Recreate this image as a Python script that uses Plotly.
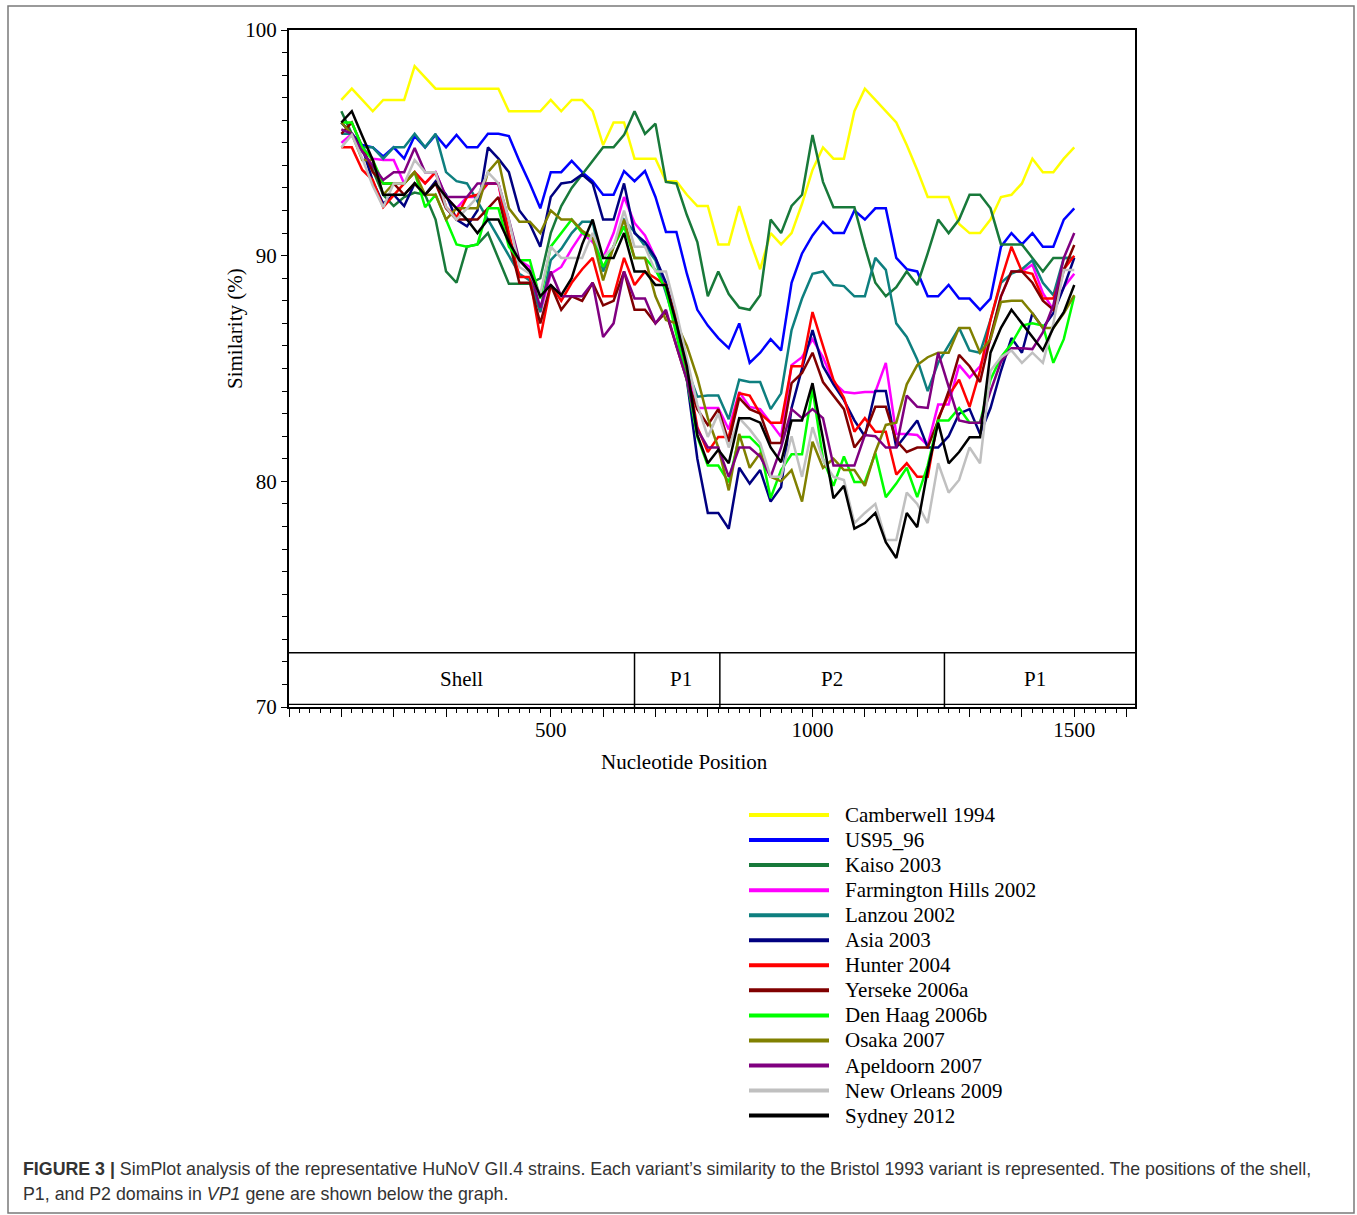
import plotly.graph_objects as go

# ---------------- data ----------------
positions = list(range(100, 1501, 20))  # window centres (nt)

camberwell_1994 = [96.9, 97.4, 96.9, 96.4, 96.9, 96.9, 96.9, 98.4, 97.9, 97.4,
                   97.4, 97.4, 97.4, 97.4, 97.4, 97.4, 96.4, 96.4, 96.4, 96.4,
                   96.9, 96.4, 96.9, 96.9, 96.4, 94.9, 95.9, 95.9, 94.3, 94.3,
                   94.3, 93.3, 93.3, 92.7, 92.2, 92.2, 90.5, 90.5, 92.2, 90.7,
                   89.4, 91.0, 90.5, 91.0, 92.3, 93.8, 94.8, 94.3, 94.3, 96.4,
                   97.4, 96.9, 96.4, 95.9, 94.9, 93.8, 92.6, 92.6, 92.6, 91.4,
                   91.0, 91.0, 91.6, 92.6, 92.7, 93.2, 94.3, 93.7, 93.7, 94.3,
                   94.8]
us95_96 = [95.9, 95.4, 94.9, 94.8, 94.4, 94.8, 94.3, 95.3, 94.8, 95.35,
           94.8, 95.35, 94.8, 94.8, 95.4, 95.4, 95.3, 94.2, 93.2, 92.1,
           93.7, 93.7, 94.2, 93.7, 93.3, 92.7, 92.7, 93.75, 93.3, 93.75,
           92.6, 91.05, 91.05, 89.2, 87.6, 86.9, 86.35, 85.9, 87.0, 85.25,
           85.7, 86.3, 85.8, 88.8, 90.1, 90.9, 91.5, 91.0, 91.0, 92.0,
           91.6, 92.1, 92.1, 89.9, 89.4, 89.3, 88.2, 88.2, 88.7, 88.1,
           88.1, 87.6, 88.1, 90.4, 91.0, 90.5, 91.0, 90.4, 90.4, 91.6,
           92.1]
kaiso_2003 = [96.4, 95.4, 94.8, 93.8, 92.7, 92.2, 92.6, 92.8, 92.7, 91.6,
              89.3, 88.8, 90.4, 90.5, 91.0, 89.9, 88.75, 88.75, 88.75, 89.0,
              91.0, 92.2, 93.0, 93.6, 94.2, 94.8, 94.8, 95.35, 96.4, 95.4,
              95.85, 93.27, 93.2, 91.8, 90.6, 88.2, 89.3, 88.3, 87.7, 87.6,
              88.25, 91.6, 91.0, 92.2, 92.7, 95.35, 93.27, 92.15, 92.15, 92.15,
              90.4, 88.8, 88.2, 88.6, 89.3, 88.7, 90.1, 91.6, 91.0, 91.6,
              92.7, 92.7, 92.1, 90.5, 90.5, 90.5, 89.9, 89.3, 89.9, 89.9,
              89.9]
farmington_hills_2002 = [95.0, 95.4, 94.8, 94.3, 94.24, 94.24, 93.2, 93.7, 93.2, 93.7,
                         92.6, 92.1, 92.6, 92.6, 93.2, 93.2, 90.7, 89.8, 89.5, 87.5,
                         89.2, 89.5, 90.3, 91.0, 90.6, 89.9, 91.0, 92.6, 91.45, 90.9,
                         89.9, 88.7, 86.8, 85.0, 83.25, 83.25, 83.25, 82.3, 83.96, 83.3,
                         83.2, 82.6, 81.97, 85.15, 85.5, 86.3, 85.5, 84.4, 83.96, 83.9,
                         83.96, 83.96, 85.25, 82.1, 82.1, 82.05, 81.6, 83.4, 83.4, 85.15,
                         84.6, 85.1, 86.3, 88.2, 89.3, 89.3, 89.6, 88.35, 87.6, 88.6,
                         89.2]
lanzou_2002 = [95.4, 95.4, 94.8, 94.8, 94.3, 94.8, 94.8, 95.4, 94.8, 95.4,
               93.7, 93.3, 93.2, 92.4, 91.6, 90.8, 90.0, 89.2, 88.9, 87.5,
               89.8, 90.3, 91.0, 91.5, 91.5, 89.3, 90.4, 91.6, 91.05, 90.4,
               89.8, 88.35, 86.8, 85.0, 83.75, 83.8, 83.8, 82.75, 84.5, 84.4,
               84.4, 83.2, 83.9, 86.7, 88.1, 89.2, 89.3, 88.7, 88.65, 88.2,
               88.2, 89.9, 89.37, 87.0, 86.4, 85.4, 84.0, 85.25, 86.0, 86.8,
               85.8, 85.7, 87.15, 88.8, 89.2, 89.4, 89.8, 88.8, 88.25, 89.9,
               89.9]
asia_2003 = [95.9, 95.4, 94.8, 93.3, 92.3, 92.7, 92.2, 93.2, 92.7, 93.3,
             92.7, 91.6, 91.3, 92.0, 94.8, 94.3, 93.7, 92.0, 91.4, 90.4,
             92.6, 93.2, 93.27, 93.6, 93.2, 91.6, 91.6, 93.2, 91.0, 90.6,
             89.9, 88.8, 87.15, 84.5, 81.0, 78.6, 78.6, 77.9, 80.6, 79.9,
             80.5, 79.1, 79.75, 83.25, 85.0, 86.7, 85.1, 84.3, 83.6, 82.7,
             82.0, 84.0, 84.0, 81.5, 82.1, 82.7, 81.5, 81.5, 82.0, 83.0,
             83.2, 82.1, 83.25, 84.9, 86.35, 85.7, 87.45, 86.8, 87.45, 88.6,
             89.9]
hunter_2004 = [94.8, 94.8, 93.8, 93.35, 92.15, 92.7, 93.2, 93.7, 93.2, 93.7,
               92.15, 91.7, 92.6, 92.7, 93.2, 93.2, 91.0, 89.05, 89.05, 86.35,
               88.7, 88.0, 88.8, 89.4, 89.9, 88.2, 88.2, 89.9, 88.7, 89.3,
               89.0, 88.7, 87.15, 85.0, 82.4, 81.3, 81.97, 81.97, 83.9, 83.8,
               83.0, 82.6, 82.6, 85.1, 85.1, 87.5, 86.0, 84.5, 83.7, 82.2,
               82.8, 82.2, 82.2, 80.3, 80.8, 80.2, 80.2, 82.8, 83.8, 84.5,
               83.3, 84.9, 87.15, 88.9, 90.4, 89.3, 89.2, 88.1, 88.1, 89.4,
               90.0]
yerseke_2006a = [95.4, 95.9, 94.8, 93.7, 93.2, 93.2, 92.7, 93.2, 92.7, 93.2,
                 92.1, 91.6, 91.6, 91.6, 92.1, 92.6, 90.7, 88.8, 88.8, 87.0,
                 88.7, 87.6, 88.2, 88.0, 88.8, 87.8, 88.0, 89.3, 87.6, 87.6,
                 87.0, 87.5, 86.0, 84.5, 83.2, 82.5, 83.2, 81.75, 83.7, 83.2,
                 83.0, 81.7, 81.7, 84.35, 84.8, 85.7, 84.4, 83.8, 83.2, 81.5,
                 82.1, 83.3, 83.3, 81.8, 81.3, 81.5, 81.5, 82.7, 84.0, 85.6,
                 85.1, 84.4, 86.4, 88.2, 89.3, 89.3, 88.8, 88.0, 87.6, 89.37,
                 90.47]
den_haag_2006b = [95.9, 95.9, 94.8, 94.24, 93.2, 93.2, 93.2, 93.7, 92.15, 92.7,
                  91.6, 90.5, 90.4, 90.5, 92.1, 92.1, 90.4, 89.8, 89.8, 88.1,
                  90.4, 91.0, 91.6, 91.0, 90.8, 89.5, 90.4, 91.3, 89.9, 89.9,
                  89.37, 88.5, 86.5, 84.5, 81.97, 80.7, 80.7, 79.96, 81.97, 81.97,
                  81.5, 79.26, 80.5, 81.2, 81.2, 84.1, 81.0, 79.8, 81.1, 79.97,
                  79.97, 81.25, 79.3, 79.9, 80.6, 79.3, 80.7, 82.7, 82.7, 83.25,
                  82.6, 82.6, 84.5, 85.5, 86.1, 86.9, 87.0, 86.9, 85.25, 86.3,
                  88.2]
osaka_2007 = [95.9, 95.4, 94.24, 94.24, 92.7, 93.2, 93.2, 93.7, 92.7, 92.7,
              91.6, 92.1, 92.1, 92.1, 93.7, 94.24, 92.1, 91.5, 91.5, 91.0,
              92.0, 91.6, 91.6, 91.1, 90.8, 88.9, 90.4, 91.6, 89.9, 89.9,
              88.2, 87.15, 87.0, 86.0, 84.6, 82.8, 81.5, 79.6, 82.1, 80.6,
              81.25, 80.2, 80.0, 80.5, 79.1, 81.75, 80.6, 81.0, 80.5, 80.5,
              79.8, 81.3, 82.5, 82.6, 84.3, 85.15, 85.5, 85.7, 85.7, 86.8,
              86.8, 85.7, 86.3, 87.95, 88.0, 88.0, 87.45, 86.8, 86.8, 87.45,
              88.25]
apeldoorn_2007 = [95.6, 95.4, 94.6, 94.0, 93.35, 93.7, 93.7, 94.77, 93.7, 93.7,
                  92.6, 92.6, 92.6, 93.2, 93.2, 93.2, 91.6, 89.8, 89.3, 87.7,
                  89.3, 88.2, 88.2, 88.2, 88.8, 86.4, 87.0, 89.3, 88.1, 88.1,
                  87.0, 87.6, 86.0, 84.5, 82.3, 81.5, 81.5, 80.2, 81.5, 81.5,
                  81.1, 80.2, 81.5, 83.2, 82.8, 83.2, 82.8, 80.7, 80.7, 80.7,
                  82.05, 82.0, 81.5, 81.5, 83.8, 83.3, 83.25, 85.7, 84.2, 82.7,
                  82.6, 82.6, 84.0, 85.3, 85.9, 85.9, 85.86, 86.6, 87.8, 89.9,
                  91.0]
new_orleans_2009 = [94.8, 95.35, 94.3, 93.1, 92.15, 93.2, 93.2, 94.24, 93.7, 93.7,
                    92.15, 91.6, 92.1, 92.6, 93.7, 93.2, 91.6, 89.5, 89.2, 88.3,
                    90.4, 89.9, 89.9, 89.9, 91.0, 89.9, 90.4, 92.0, 90.4, 90.4,
                    89.3, 89.3, 87.5, 85.5, 83.4, 81.97, 83.0, 81.5, 82.8, 82.3,
                    81.7, 80.2, 80.2, 82.0, 80.2, 82.4, 80.95, 80.2, 80.06, 78.15,
                    78.6, 79.0, 77.4, 77.4, 79.5, 79.0, 78.15, 80.8, 79.5, 80.06,
                    81.5, 80.8, 84.9, 85.5, 85.8, 85.25, 85.7, 85.25, 87.0, 89.37,
                    89.37]
sydney_2012 = [95.9, 96.4, 95.3, 94.24, 92.7, 92.7, 92.7, 93.2, 92.7, 93.2,
               92.6, 92.1, 91.6, 91.0, 91.6, 91.6, 90.6, 89.8, 89.3, 88.2,
               88.7, 88.25, 89.0, 90.5, 91.6, 89.9, 89.9, 91.0, 89.3, 89.3,
               88.7, 88.7, 87.0, 85.1, 82.05, 80.8, 81.4, 80.8, 82.8, 82.8,
               82.6, 81.5, 80.85, 82.7, 82.7, 84.35, 81.9, 79.25, 79.8, 77.9,
               78.15, 78.6, 77.3, 76.6, 78.6, 77.97, 80.5, 82.6, 80.8, 81.3,
               81.95, 81.95, 85.7, 86.8, 87.6, 87.0, 86.4, 85.8, 86.8, 87.5,
               88.7]

series_names = ["Camberwell 1994", "US95_96", "Kaiso 2003", "Farmington Hills 2002",
                "Lanzou 2002", "Asia 2003", "Hunter 2004", "Yerseke 2006a",
                "Den Haag 2006b", "Osaka 2007", "Apeldoorn 2007", "New Orleans 2009",
                "Sydney 2012"]
series_values = [camberwell_1994, us95_96, kaiso_2003, farmington_hills_2002,
                 lanzou_2002, asia_2003, hunter_2004, yerseke_2006a,
                 den_haag_2006b, osaka_2007, apeldoorn_2007, new_orleans_2009,
                 sydney_2012]
series_colors = ["#FFFF00", "#0000FF", "#18793A", "#FF00FF", "#0E7F7F", "#000080",
                 "#FF0000", "#800000", "#00FF00", "#808000", "#800080", "#C0C0C0",
                 "#000000"]

domain_names = ["Shell", "P1", "P2", "P1"]
domain_starts = [0, 660, 823, 1252]
domain_label_x = [330, 749, 1037, 1425]

x_tick_labels = {500: "500", 1000: "1000", 1500: "1500"}
y_tick_values = [70, 80, 90, 100]

# ---------------- geometry helpers (pixel -> paper) ----------------
W, H = 1357, 1215
L, R, T, B = 289, 1135, 30, 707
def px(xp):
    return (xp - L) / (R - L)
def py(yp):
    return (B - yp) / (B - T)

SERIF = "Liberation Serif, Times New Roman, serif"
SANS = "Liberation Sans, Arial, sans-serif"
FS = 21

fig = go.Figure()
for name, vals, col in zip(series_names, series_values, series_colors):
    fig.add_trace(go.Scatter(x=positions, y=vals, mode="lines", name=name,
                             line=dict(color=col, width=2.5), showlegend=False))

x_major = list(range(0, 1601, 100))
fig.update_layout(
    width=W, height=H,
    margin=dict(l=L, r=W - R, t=T, b=H - B, pad=0),
    paper_bgcolor="white", plot_bgcolor="white",
    xaxis=dict(range=[0, 1616], showgrid=False, zeroline=False,
               showline=True, mirror=True, linecolor="black", linewidth=2,
               ticks="outside", ticklen=8, tickwidth=1, tickcolor="black",
               tickvals=x_major, ticktext=[x_tick_labels.get(v, "") for v in x_major],
               ticklabelstandoff=-5,
               tickfont=dict(family=SERIF, size=FS, color="black"),
               minor=dict(dtick=20, tick0=0, ticks="outside", ticklen=4,
                          tickwidth=1, tickcolor="black", showgrid=False)),
    yaxis=dict(range=[70, 100], showgrid=False, zeroline=False,
               showline=True, mirror=True, linecolor="black", linewidth=2,
               ticks="outside", ticklen=6, tickwidth=1, tickcolor="black",
               tickvals=y_tick_values,
               tickfont=dict(family=SERIF, size=FS, color="black"),
               minor=dict(dtick=1, tick0=70, ticks="outside", ticklen=5,
                          tickwidth=1, tickcolor="black", showgrid=False)),
)

shapes = []
annotations = []
# domain box
box_top = 72.4
shapes.append(dict(type="line", xref="x", yref="y", x0=0, x1=1616, y0=box_top, y1=box_top,
                   line=dict(color="black", width=1.5)))
shapes.append(dict(type="line", xref="x", yref="y", x0=0, x1=1616, y0=70.12, y1=70.12,
                   line=dict(color="black", width=1.2)))
for s, lx, nm in zip(domain_starts, domain_label_x, domain_names):
    if s > 0:
        shapes.append(dict(type="line", xref="x", yref="y", x0=s, x1=s, y0=70, y1=box_top,
                           line=dict(color="black", width=1.5)))
    annotations.append(dict(xref="x", yref="y", x=lx, y=71.25, text=nm,
                            showarrow=False, font=dict(family=SERIF, size=FS, color="black")))

# axis titles
annotations.append(dict(xref="paper", yref="paper", x=px(684), y=py(762),
                        text="Nucleotide Position", showarrow=False,
                        xanchor="center", yanchor="middle",
                        font=dict(family=SERIF, size=FS, color="black")))
annotations.append(dict(xref="paper", yref="paper", x=px(235), y=py(329),
                        text="Similarity (%)", showarrow=False, textangle=-90,
                        xanchor="center", yanchor="middle",
                        font=dict(family=SERIF, size=FS, color="black")))

# manual legend
for k, (name, col) in enumerate(zip(series_names, series_colors)):
    yy = 815 + 25.05 * k
    shapes.append(dict(type="line", xref="paper", yref="paper",
                       x0=px(749), x1=px(829), y0=py(yy), y1=py(yy),
                       line=dict(color=col, width=4)))
    annotations.append(dict(xref="paper", yref="paper", x=px(843), y=py(yy),
                            text=name, showarrow=False, xanchor="left", yanchor="middle",
                            font=dict(family=SERIF, size=FS, color="black")))

# caption
cap1 = ("<b>FIGURE 3 |</b> SimPlot analysis of the representative HuNoV GII.4 strains. "
        "Each variant\u2019s similarity to the Bristol 1993 variant is represented. "
        "The positions of the shell,")
cap2 = "P1, and P2 domains in <i>VP1</i> gene are shown below the graph."
annotations.append(dict(xref="paper", yref="paper", x=px(21), y=py(1169), text=cap1,
                        showarrow=False, xanchor="left", yanchor="middle",
                        font=dict(family=SANS, size=17.8, color="#333333")))
annotations.append(dict(xref="paper", yref="paper", x=px(21), y=py(1194), text=cap2,
                        showarrow=False, xanchor="left", yanchor="middle",
                        font=dict(family=SANS, size=17.8, color="#333333")))

# outer frame
shapes.append(dict(type="rect", xref="paper", yref="paper",
                   x0=px(8), x1=px(1354), y0=py(6), y1=py(1213),
                   line=dict(color="#7a7a7a", width=1.5), fillcolor="rgba(0,0,0,0)"))

fig.update_layout(shapes=shapes, annotations=annotations)
fig.write_html("out.html")
